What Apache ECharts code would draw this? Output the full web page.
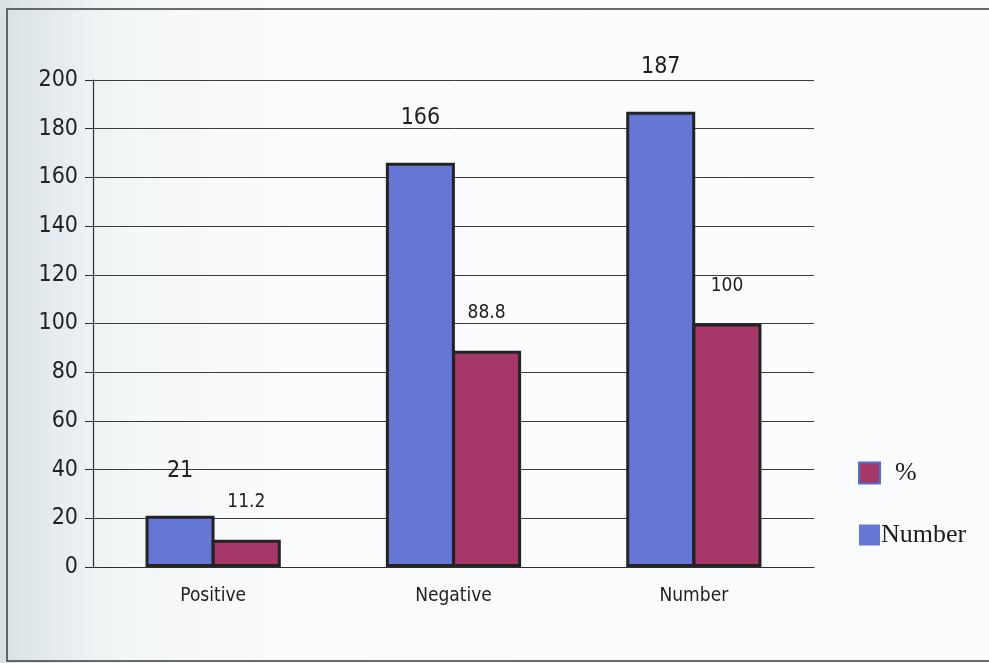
<!DOCTYPE html>
<html>
<head>
<meta charset="utf-8">
<script src="https://cdn.jsdelivr.net/npm/echarts@6/dist/echarts.min.js"></script>
<style>
  html, body { margin: 0; padding: 0; }
  #chart { width: 989px; height: 663px; }
</style>
</head>
<body>
<div id="chart"></div>
<script>
// Test outcome counts and shares
const categories = ['Positive', 'Negative', 'Number'];
const numberValues = [21, 166, 187];
const percentValues = [11.2, 88.8, 100];
const yTicks = { min: 0, max: 200, interval: 20 };

const narrow = '"DejaVu Sans Condensed", "DejaVu Sans", Arial, sans-serif';
const serif = '"Liberation Serif", "DejaVu Serif", serif';

const chart = echarts.init(document.getElementById('chart'));

chart.setOption({
  backgroundColor: {
    type: 'linear', x: 0, y: 0, x2: 1, y2: 0,
    colorStops: [
      { offset: 0, color: '#d9e1e5' },
      { offset: 0.06, color: '#e6ecef' },
      { offset: 0.12, color: '#f3f6f7' },
      { offset: 0.3, color: '#fafbfc' },
      { offset: 1, color: '#fbfcfd' }
    ]
  },
  animation: false,
  graphic: [{
    type: 'rect',
    shape: { x: 7, y: 9, width: 1010, height: 652 },
    style: { fill: 'none', stroke: '#3a3d3c', lineWidth: 1.5 },
    silent: true
  }],
  grid: { left: 93, right: 175, top: 80, bottom: 96, containLabel: false },
  legend: {
    orient: 'vertical',
    left: 853,
    top: 455,
    icon: 'rect',
    itemWidth: 21,
    itemHeight: 21,
    itemGap: 36,
    textStyle: { fontFamily: serif, fontSize: 26, color: '#1c1c1c' },
    data: [
      { name: '%', itemStyle: { borderColor: '#4f6fd6', borderWidth: 2 },
        textStyle: { padding: [0, 0, 0, 10] } },
      { name: 'Number', itemStyle: { borderWidth: 0 },
        textStyle: { padding: [0, 0, 0, -4] } }
    ]
  },
  xAxis: {
    type: 'category',
    data: categories,
    axisLine: { lineStyle: { color: '#2e2e2e', width: 1.2 } },
    axisTick: { length: 7, lineStyle: { color: '#2e2e2e' } },
    axisLabel: { fontFamily: narrow, fontSize: 19, color: '#222', margin: 20 }
  },
  yAxis: {
    type: 'value',
    min: yTicks.min,
    max: yTicks.max,
    interval: yTicks.interval,
    axisLine: { show: true, lineStyle: { color: '#2e2e2e', width: 1.2 } },
    axisTick: { show: true, length: 8, lineStyle: { color: '#2e2e2e' } },
    axisLabel: { fontFamily: narrow, fontSize: 23, color: '#222', margin: 15 },
    splitLine: { lineStyle: { color: '#3a3a3a', width: 1 } }
  },
  series: [
    {
      name: 'Number',
      type: 'bar',
      data: numberValues,
      barWidth: 69,
      barGap: '-4%',
      itemStyle: { color: '#6676d4', borderColor: '#232323', borderWidth: 3 },
      label: {
        show: true, position: 'top', distance: 33,
        fontFamily: narrow, fontSize: 23, color: '#1e1e1e'
      }
    },
    {
      name: '%',
      type: 'bar',
      data: percentValues,
      barWidth: 69,
      barGap: '-4%',
      itemStyle: { color: '#a53868', borderColor: '#232323', borderWidth: 3 },
      label: {
        show: true, position: 'top', distance: 28,
        fontFamily: narrow, fontSize: 19, color: '#1e1e1e'
      }
    }
  ]
});
</script>
</body>
</html>
